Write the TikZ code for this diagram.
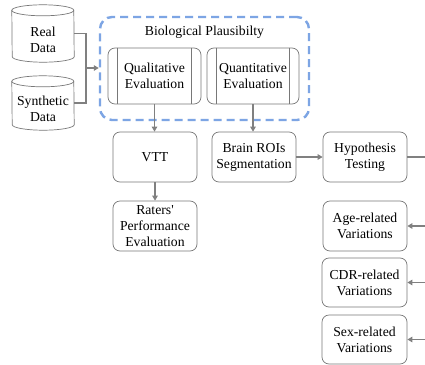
\documentclass[tikz,border=0pt]{standalone}
\usepackage{fontspec}
\setmainfont{Liberation Serif}[Ligatures=TeXOff]
\usetikzlibrary{arrows.meta,calc}
\definecolor{linegray}{RGB}{128,128,128}
\definecolor{boxgray}{RGB}{120,120,120}
\definecolor{dashblue}{RGB}{125,165,228}
\tikzset{
  txt/.style={font=\rmfamily\fontsize{13.7}{16}\selectfont, align=center, text=black},
  boxnode/.style={txt, draw=boxgray, line width=0.7pt, rounded corners=7pt, inner sep=0pt},
  cylbody/.style={draw=boxgray, line width=0.7pt},
  conn/.style={draw=linegray, line width=1.1pt},
  arr/.style={conn, -{Triangle[length=5pt,width=5.5pt]}},
}
\begin{document}
\begin{tikzpicture}[x=1pt,y=-1pt]
\useasboundingbox (0,0) rectangle (425,364);
\clip (0,0) rectangle (425,364);
\fill[white] (0,0) rectangle (425,364);

% cylinders
\node[minimum width=62pt, minimum height=57pt, inner sep=0pt] (real) at (43,33.5) {};
\node[minimum width=62pt, minimum height=54pt, inner sep=0pt] (synth) at (43,103) {};
\foreach \n in {real,synth}{
  \draw[cylbody] ($(\n.north west)+(0,5.5)$) arc[start angle=180,end angle=0,x radius=31pt,y radius=5.5pt]
    -- ($(\n.south east)+(0,-5.5)$) arc[start angle=0,end angle=-180,x radius=31pt,y radius=5.5pt] -- cycle;
  \draw[cylbody] ($(\n.north west)+(0,5.5)$) arc[start angle=180,end angle=360,x radius=31pt,y radius=5.5pt];
}
\node[txt] (realtxt) at (43,39.5) {Real\\Data};
\node[txt] (synthtxt) at (43,108.5) {Synthetic\\Data};

% dashed group
\node[draw=dashblue, line width=2.4pt, dash pattern=on 8pt off 5pt, rounded corners=12pt,
      minimum width=209pt, minimum height=103pt, inner sep=0pt] (bio) at (204.5,68.5) {};
\node[txt] (biotitle) at (204.5,32) {Biological Plausibilty};

% process boxes
\node[boxnode, minimum width=93pt, minimum height=56pt] (qual) at (154.5,76) {Qualitative\\Evaluation};
\node[boxnode, minimum width=92pt, minimum height=56pt] (quant) at (253,76) {Quantitative\\Evaluation};
\foreach \n in {qual,quant}{
  \draw[draw=boxgray, line width=0.7pt] ($(\n.north west)+(10,0)$) -- ($(\n.south west)+(10,0)$);
  \draw[draw=boxgray, line width=0.7pt] ($(\n.north east)+(-10,0)$) -- ($(\n.south east)+(-10,0)$);
}

% boxes
\node[boxnode, minimum width=84pt, minimum height=50pt] (vtt) at (155,157) {VTT};
\node[boxnode, minimum width=84pt, minimum height=50pt] (brain) at (254,157) {Brain ROIs\\Segmentation};
\node[boxnode, minimum width=84pt, minimum height=50pt] (hyp) at (365,157) {Hypothesis\\Testing};
\node[boxnode, minimum width=84pt, minimum height=50pt] (raters) at (155,226) {Raters'\\Performance\\Evaluation};
\node[boxnode, minimum width=84pt, minimum height=50pt] (age) at (365,226) {Age-related\\Variations};
\node[boxnode, minimum width=85pt, minimum height=49pt] (cdr) at (364.5,282.5) {CDR-related\\Variations};
\node[boxnode, minimum width=85pt, minimum height=49pt] (sex) at (364.5,339.5) {Sex-related\\Variations};

% connectors
\coordinate (join) at (86,68);
\draw[conn] (real.east) -| (join);
\draw[conn] (synth.east) -| (join);
\draw[arr] (join) -- (bio.west |- join);
\draw[arr] (qual.south) -- (qual.south |- vtt.north);
\draw[arr] (quant.south) -- (quant.south |- brain.north);
\draw[arr] (vtt.south) -- (raters.north);
\draw[arr] (brain.east) -- (hyp.west);
\coordinate (rtop) at (432,157);
\coordinate (rbot) at (432,339.5);
\draw[conn] (hyp.east) -- (rtop) -- (rbot);
\draw[arr] (rtop |- age.east) -- (age.east);
\draw[arr] (rtop |- cdr.east) -- (cdr.east);
\draw[arr] (rtop |- sex.east) -- (sex.east);
\end{tikzpicture}
\end{document}
